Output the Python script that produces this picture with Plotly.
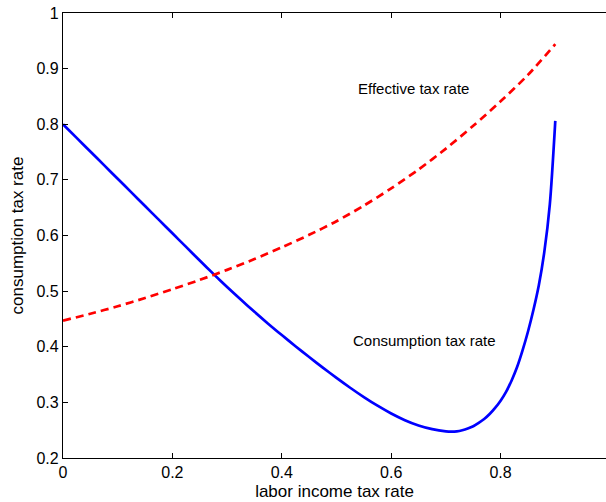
import plotly.graph_objects as go

# Labor income tax rate grid points
x_cons = [0.0, 0.025, 0.05, 0.075, 0.10, 0.125, 0.15, 0.175, 0.20, 0.225, 0.25,
          0.275, 0.30, 0.325, 0.35, 0.375, 0.40, 0.425, 0.45, 0.475, 0.50, 0.525,
          0.55, 0.575, 0.60, 0.625, 0.65, 0.675, 0.70, 0.71, 0.72, 0.73, 0.74,
          0.75, 0.76, 0.77, 0.78, 0.79, 0.80, 0.81, 0.82, 0.83, 0.84, 0.85, 0.86,
          0.87, 0.88, 0.89, 0.90]
consumption_tax = [0.8000, 0.7755, 0.7510, 0.7265, 0.7020, 0.6775, 0.6530, 0.6285,
                   0.6040, 0.5795, 0.5550, 0.5310, 0.5075, 0.4848, 0.4628, 0.4415,
                   0.4210, 0.4010, 0.3815, 0.3625, 0.3440, 0.3263, 0.3095, 0.2940,
                   0.2800, 0.2680, 0.2585, 0.2518, 0.2480, 0.2475, 0.2480, 0.2500,
                   0.2530, 0.2570, 0.2630, 0.2700, 0.2790, 0.2900, 0.3030, 0.3190,
                   0.3390, 0.3630, 0.3930, 0.4270, 0.4660, 0.5110, 0.5710, 0.6560,
                   0.8060]

x_eff = [0.0, 0.05, 0.10, 0.15, 0.20, 0.25, 0.30, 0.35, 0.40, 0.45, 0.50, 0.55,
         0.60, 0.65, 0.70, 0.75, 0.80, 0.85, 0.90]
effective_tax = [0.4470, 0.4593, 0.4728, 0.4876, 0.5034, 0.5202, 0.5382, 0.5577,
                 0.5787, 0.6012, 0.6257, 0.6537, 0.6847, 0.7187, 0.7562, 0.7972,
                 0.8412, 0.8887, 0.9440]

x_ticks = [0, 0.2, 0.4, 0.6, 0.8]
x_tick_labels = ["0", "0.2", "0.4", "0.6", "0.8"]
y_ticks = [0.2, 0.3, 0.4, 0.5, 0.6, 0.7, 0.8, 0.9, 1.0]
y_tick_labels = ["0.2", "0.3", "0.4", "0.5", "0.6", "0.7", "0.8", "0.9", "1"]

FONT = "Liberation Sans, Arial, Helvetica, sans-serif"

fig = go.Figure()
fig.add_trace(go.Scatter(x=x_cons, y=consumption_tax, mode="lines",
                         line=dict(color="#0000ff", width=2.7, shape="spline", smoothing=0.8),
                         showlegend=False, hoverinfo="skip"))
fig.add_trace(go.Scatter(x=x_eff, y=effective_tax, mode="lines",
                         line=dict(color="#ff0000", width=2.7, dash="8px,5px",
                                   shape="spline", smoothing=0.8),
                         showlegend=False, hoverinfo="skip"))

fig.add_annotation(x=0.536, y=0.864, xref="x", yref="y", text="Effective tax rate",
                   showarrow=False, xanchor="left", yanchor="middle",
                   font=dict(family=FONT, size=15, color="black"))
fig.add_annotation(x=0.526, y=0.411, xref="x", yref="y", text="Consumption tax rate",
                   showarrow=False, xanchor="left", yanchor="middle",
                   font=dict(family=FONT, size=15, color="black"))

fig.update_layout(
    width=606, height=502,
    margin=dict(l=63, r=0, t=13, b=44, pad=0),
    paper_bgcolor="white", plot_bgcolor="white",
    font=dict(family=FONT, size=16, color="black"),
)
fig.update_xaxes(
    range=[0, 0.9927], tickmode="array", tickvals=x_ticks, ticktext=x_tick_labels,
    showgrid=False, zeroline=False, showline=True, linecolor="black", linewidth=1.3,
    mirror="ticks", ticks="inside", ticklen=5, tickcolor="black", tickwidth=1,
    tickfont=dict(family=FONT, size=16, color="black"),
    title=dict(text="labor income tax rate", standoff=4,
               font=dict(family=FONT, size=17, color="black")),
    automargin=False,
)
fig.update_yaxes(
    range=[0.2, 1.0], tickmode="array", tickvals=y_ticks, ticktext=y_tick_labels,
    showgrid=False, zeroline=False, showline=True, linecolor="black", linewidth=1.3,
    mirror=False, ticks="inside", ticklen=5, tickcolor="black", tickwidth=1,
    tickfont=dict(family=FONT, size=16, color="black"),
    title=dict(text="consumption tax rate", standoff=8,
               font=dict(family=FONT, size=17, color="black")),
    automargin=False,
)

fig.write_html("out.html")
